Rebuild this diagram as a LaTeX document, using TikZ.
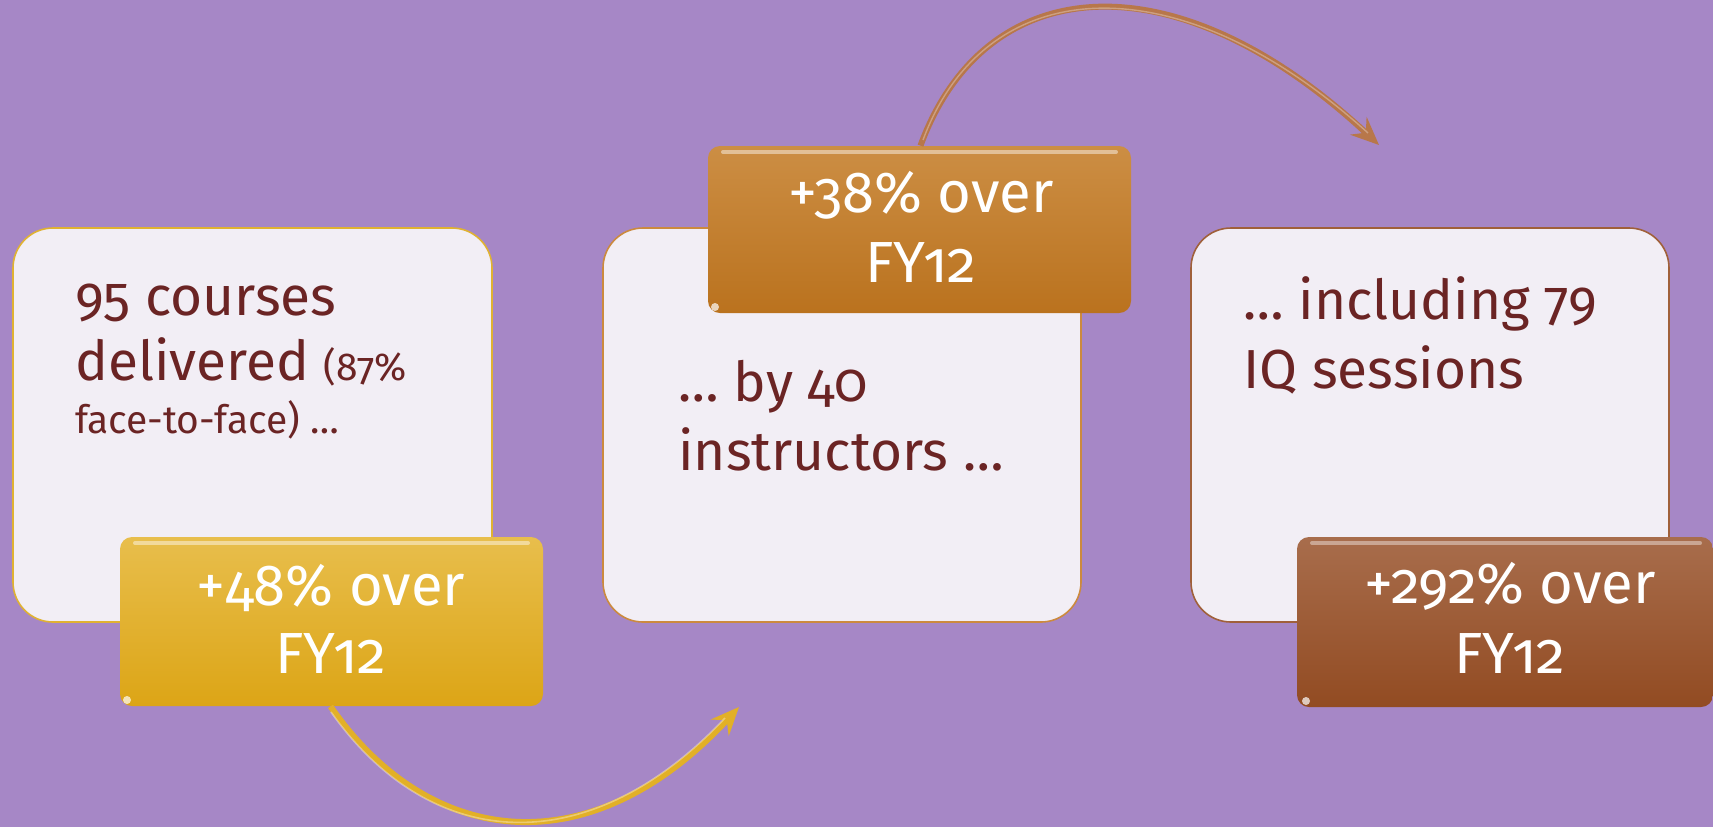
\documentclass[tikz,border=0pt]{standalone}
\usepackage{fontspec}
\setmainfont{Fira Sans}[Numbers=OldStyle]
\usetikzlibrary{arrows.meta}
\definecolor{bgpurple}{HTML}{A687C6}
\definecolor{boxwhite}{HTML}{F2EEF5}
\definecolor{txtbrown}{HTML}{6B2424}
\definecolor{goldtop}{HTML}{E8BE4C}
\definecolor{goldbot}{HTML}{DCA516}
\definecolor{orgtop}{HTML}{CC8E44}
\definecolor{orgbot}{HTML}{BA721E}
\definecolor{brntop}{HTML}{A86D4C}
\definecolor{brnbot}{HTML}{924B22}
\definecolor{goldline}{HTML}{E0B232}
\definecolor{orgline}{HTML}{CC8A3E}
\definecolor{brnline}{HTML}{A0603A}
\definecolor{arrowgold}{HTML}{E2B027}
\definecolor{arrowbrn}{HTML}{B8774A}
\tikzset{
  bigbox/.style={draw, line width=0.8pt, fill=boxwhite, rounded corners=20pt},
  tagbox/.style={rounded corners=6pt},
  bodytxt/.style={inner sep=0pt, anchor=base west, text=txtbrown, font=\fontsize{27.5}{32.5}\selectfont},
  smalltxt/.style={inner sep=0pt, anchor=base west, text=txtbrown, font=\fontsize{19.5}{24}\selectfont},
  tagtxt/.style={inner sep=0pt, anchor=base, text=white, font=\fontsize{29}{34}\selectfont},
}
\begin{document}
\begin{tikzpicture}[x=0.5pt, y=-0.5pt]
\useasboundingbox (0,0) rectangle (1713,827);
\fill[bgpurple] (0,0) rectangle (1713,827);

% white boxes
\path[bigbox, draw=goldline] (13,228) rectangle (492,622);
\path[bigbox, draw=orgline] (603,228) rectangle (1081,622);
\path[bigbox, draw=brnline] (1191,228) rectangle (1669,622);

% box texts
\node[bodytxt] (t1a) at (75,315) {95 courses};
\node[bodytxt] (t1b) at (75,380) {delivered {\fontsize{19.5}{24}\selectfont (87\%}};
\node[smalltxt] (t1c) at (75,433) {face-to-face) …};
\node[bodytxt] (t2a) at (678,401) {… by 40};
\node[bodytxt] (t2b) at (678,470) {instructors …};
\node[bodytxt] (t3a) at (1243,319) {… including 79};
\node[bodytxt] (t3b) at (1243,388) {IQ sessions};

% coloured tags
\node[tagbox, top color=goldtop, bottom color=goldbot, minimum width=211.5pt, minimum height=84.5pt, inner sep=0pt] (gold) at (331.5,621.5) {};
\draw[white, opacity=0.45, line width=2pt, line cap=round] (135,543) -- (528,543);
\fill[white, opacity=0.7] (127,700) circle (4);

\node[tagbox, top color=orgtop, bottom color=orgbot, minimum width=211.5pt, minimum height=83.5pt, inner sep=0pt] (orange) at (919.5,229.5) {};
\draw[white, opacity=0.45, line width=2pt, line cap=round] (723,152) -- (1116,152);
\fill[white, opacity=0.7] (715,307) circle (4);

\node[tagbox, top color=brntop, bottom color=brnbot, minimum width=208pt, minimum height=85pt, inner sep=0pt] (brown) at (1505,622) {};
\draw[white, opacity=0.4, line width=2pt, line cap=round] (1312,543) -- (1700,543);
\fill[white, opacity=0.7] (1306,701) circle (4);

\node[tagtxt] (g1) at (331,605) {+48\% over};
\node[tagtxt] (g2) at (331,673) {FY12};
\node[tagtxt] (o1) at (921,212) {+38\% over};
\node[tagtxt] (o2) at (921,282) {FY12};
\node[tagtxt] (r1) at (1510,603) {+292\% over};
\node[tagtxt] (r2) at (1510,673) {FY12};

% arrows
\coordinate (a1end) at (739,707);
\coordinate (a2end) at (1379,145);
\draw[arrowgold, line width=3pt, -{Stealth[length=14pt, width=12pt, inset=5pt]}]
  (gold.south) ++(-1,0) .. controls (428,847) and (589,869) .. (a1end);
\draw[white, opacity=0.35, line width=0.8pt]
  (331,712) .. controls (428,850) and (585,866) .. (725,718);
\draw[arrowbrn, line width=3pt, -{Stealth[length=14pt, width=12pt, inset=5pt]}]
  (orange.north) ++(1,0) .. controls (985,-30) and (1175,-45) .. (a2end);
\draw[white, opacity=0.3, line width=0.7pt]
  (923,140) .. controls (985,-27) and (1175,-42) .. (1368,133);
\end{tikzpicture}
\end{document}
